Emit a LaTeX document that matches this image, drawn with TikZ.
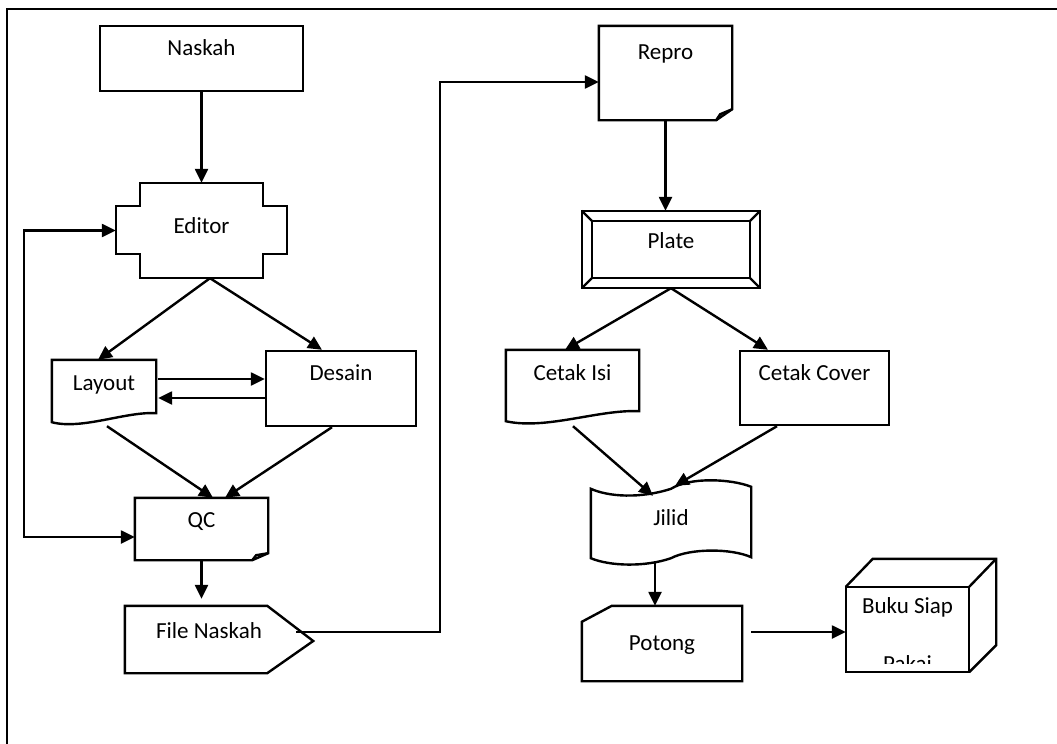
\documentclass[tikz,border=0pt]{standalone}
\usepackage{fontspec}
\setmainfont{Carlito}
\usetikzlibrary{arrows.meta,calc}

\begin{document}
\begin{tikzpicture}[
   x=0.5pt,y=-0.5pt,
   font=\fontsize{11.5}{14}\selectfont,
   line width=1.2pt,
   blk/.style n args={3}{inner sep=0pt,minimum width=#1,text height=#2,text depth=#3},
   arw/.style={-{Triangle[length=7pt,width=6.5pt]}},
   twoway/.style={{Triangle[length=7pt,width=6.5pt]}-{Triangle[length=7pt,width=6.5pt]}}]
\useasboundingbox (0,0) rectangle (1057,744);
\draw (7,744) -- (7,9) -- (1057,9);
% left column
\node[blk={101.5pt}{14.5pt}{18pt},draw] (naskah) at (201.5,58.5) {Naskah};
\node[blk={84.5pt}{24.5pt}{22pt}] (editor) at (201.5,230.5) {Editor};
\node[blk={51pt}{14.5pt}{15.5pt}] (layout) at (104,391) {Layout};
\node[blk={75pt}{14.5pt}{23pt},draw] (desain) at (341,388.5) {Desain};
\node[blk={65.5pt}{14pt}{16pt}] (qc) at (201.5,529) {QC};
\node[blk={83pt}{15.5pt}{17pt}] (filenaskah) at (209,639.5) {File Naskah};
% right column
\node[blk={65.5pt}{16.5pt}{29.5pt}] (repro) at (665.5,73) {Repro};
\node[blk={88pt}{18pt}{19.5pt}] (plate) at (671,249.5) {Plate};
\node[blk={65.5pt}{14.5pt}{20pt}] (cetakisi) at (572.5,385.5) {Cetak Isi};
\node[blk={74.5pt}{14.5pt}{22.5pt},draw] (cetakcover) at (814.5,388) {Cetak Cover};
\node[blk={79pt}{19pt}{17.5pt}] (jilid) at (671,523.5) {Jilid};
\node[blk={79pt}{21.5pt}{15pt}] (potong) at (662,643.5) {Potong};
\begin{scope}
\clip (840,550) rectangle (1000,663);
\node[blk={60.5pt}{41.5pt}{0pt},align=center] (buku) at (907.5,629.5) {Buku Siap\\[15pt]Pakai};
\end{scope}

% outlines
\draw ($(editor.north west)+(24,0)$) -- ($(editor.north east)+(-24,0)$) -- ++(0,23) -- ++(24,0)
  -- ($(editor.south east)+(0,-24)$) -- ++(-24,0) -- ++(0,24) -- ($(editor.south west)+(24,0)$)
  -- ++(0,-24) -- ++(-24,0) -- ($(editor.north west)+(0,23)$) -- ++(24,0) -- cycle;
\draw (layout.north west) -- (layout.north east) -- ($(layout.south east)+(0,-9)$)
  .. controls +(-30,-2) and +(30,8) .. (layout.south west) -- cycle;
\draw (qc.north west) -- (qc.north east) -- ($(qc.south east)+(0,-7)$) -- ($(qc.south east)+(-16,0)$) -- (qc.south west) -- cycle;
\draw ($(qc.south east)+(-16,0)$) -- ++(4,-5) -- ($(qc.south east)+(0,-7)$);
\draw (filenaskah.north west) -- ($(filenaskah.north east)+(-26,0)$) -- ($(filenaskah.east)+(20,1.5)$)
  -- ($(filenaskah.south east)+(-26,0)$) -- (filenaskah.south west) -- cycle;
\draw (repro.north west) -- (repro.north east) -- ($(repro.south east)+(0,-11)$) -- ($(repro.south east)+(-16,0)$) -- (repro.south west) -- cycle;
\draw ($(repro.south east)+(-16,0)$) -- ++(4,-6) -- ($(repro.south east)+(0,-11)$);
\draw (plate.north west) rectangle (plate.south east);
\draw ($(plate.north west)+(10,10)$) rectangle ($(plate.south east)+(-10,-10)$);
\foreach \c/\dx/\dy in {north west/10/10,north east/-10/10,south east/-10/-10,south west/10/-10}
  \draw (plate.\c) -- ++(\dx,\dy);
\draw (cetakisi.north west) -- (cetakisi.north east) -- ($(cetakisi.south east)+(0,-10)$)
  .. controls +(-40,-2) and +(40,9) .. (cetakisi.south west) -- cycle;
\draw ($(jilid.north west)+(0,3)$) .. controls +(18,8) and +(-31,10) .. ($(jilid.north)+(0,3)$)
  .. controls +(19,-12) and +(-20,-8) .. ($(jilid.north east)+(0,1)$) -- ($(jilid.south east)+(0,-4)$)
  .. controls +(-20,-9) and +(19,-10) .. ($(jilid.south)+(0,-3)$)
  .. controls +(-26,9) and +(19,8) .. ($(jilid.south west)+(0,-3)$) -- cycle;
\draw ($(potong.north west)+(0,16)$) -- ($(potong.north west)+(30,0)$) -- (potong.north east)
  -- (potong.south east) -- (potong.south west) -- cycle;
\draw (buku.north west) rectangle (buku.south east);
\draw (buku.north west) -- ++(27,-28) -- ($(buku.north east)+(27,-28)$) -- ($(buku.south east)+(27,-27)$) -- (buku.south east);
\draw (buku.north east) -- ++(27,-28);

% connectors
\draw[arw] (naskah.south) -- (editor.north);
\draw[arw] ($(editor.south)+(8.5,0)$) -- ($(layout.north)+(-6,0)$);
\draw[arw] ($(editor.south)+(8.5,0)$) -- ($(desain.north)+(-19,0)$);
\draw[arw] ($(layout.east)+(2,-12)$) -- ($(desain.west)+(0,-9.5)$);
\draw[arw] ($(desain.west)+(0,9.5)$) -- ($(layout.east)+(2,7)$);
\draw[arw] ($(layout.south)+(3,4)$) -- ($(qc.north)+(11.5,0)$);
\draw[arw] ($(desain.south)+(-9,0)$) -- ($(qc.north)+(23.5,0)$);
\draw[twoway] (editor.west) -- ++(-92,0) |- ($(qc.west)+(0,8)$);
\draw[arw,shorten >=3.5pt] (qc.south) -- (qc.south |- filenaskah.north);
\draw[arw] ($(filenaskah.east)+(3,-7.5)$) -- ++(144,0) |- ($(repro.west)+(0,9)$);
\draw[arw] (repro.south) -- (repro.south |- plate.north);
\draw[arw] (plate.south) -- ($(cetakisi.north)+(-7.5,0)$);
\draw[arw] (plate.south) -- ($(cetakcover.north)+(-46.5,0)$);
\draw[arw] ($(cetakisi.south)+(0.5,5)$) -- ($(jilid.north)+(-18,10)$);
\draw[arw] ($(cetakcover.south)+(-37.5,0)$) -- ($(jilid.north)+(4,0)$);
\draw[arw] ($(jilid.south)+(-16,0)$) coordinate (j) -- (j |- potong.north);
\draw[arw] ($(potong.east)+(9,-11.5)$) -- ($(buku.west)+(0,2.5)$);
\end{tikzpicture}
\end{document}
